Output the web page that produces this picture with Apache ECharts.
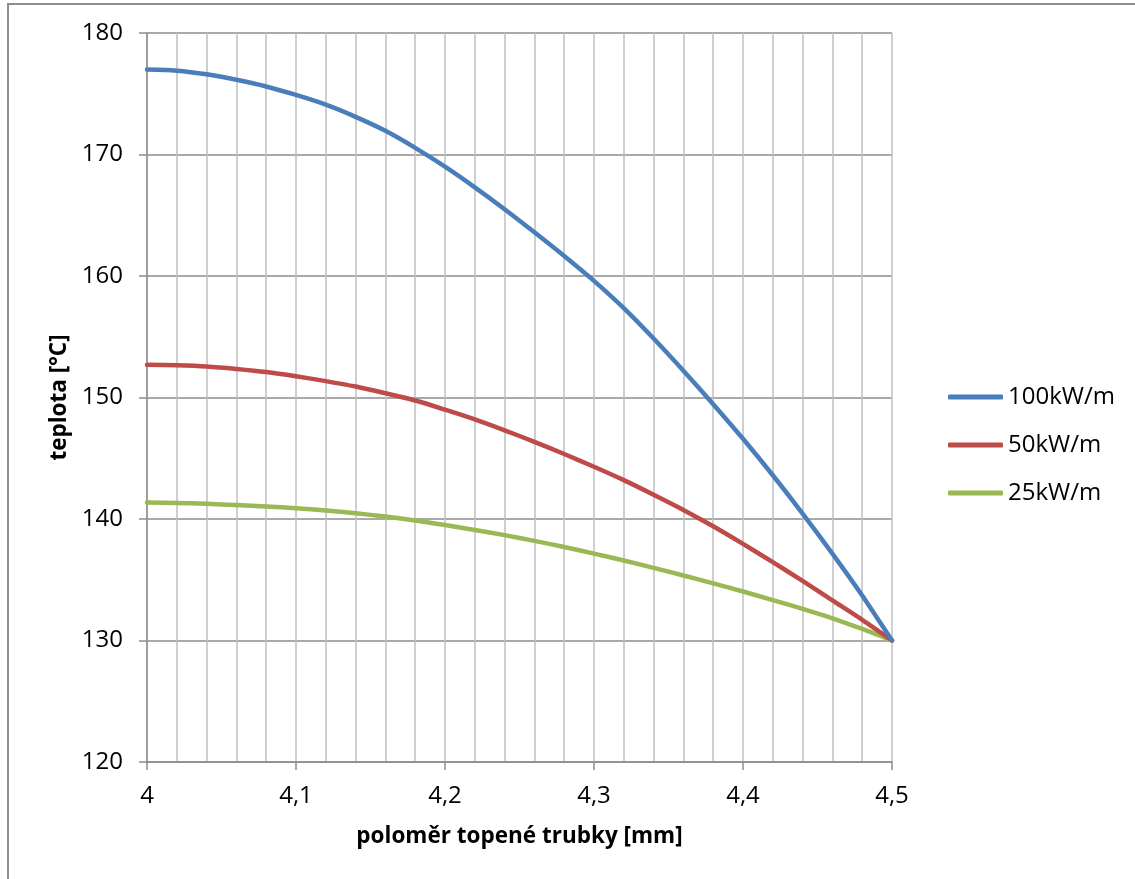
<!DOCTYPE html>
<html>
<head>
<meta charset="utf-8">
<title>teplota vs. poloměr</title>
<script src="https://cdn.jsdelivr.net/npm/echarts@6/dist/echarts.min.js"></script>
<style>
  html, body { margin: 0; padding: 0; background: #ffffff; }
  #chart { width: 1135px; height: 879px; }
</style>
</head>
<body>
<div id="chart"></div>
<script>
// poloměr topené trubky [mm]
const radius = [4.00, 4.02, 4.04, 4.06, 4.08, 4.10, 4.12, 4.14, 4.16, 4.18,
                4.20, 4.22, 4.24, 4.26, 4.28, 4.30, 4.32, 4.34, 4.36, 4.38,
                4.40, 4.42, 4.44, 4.46, 4.48, 4.50];

// teplota [°C] pro jednotlivé tepelné výkony
const t100 = [177.0, 176.9, 176.6, 176.15, 175.6, 174.9, 174.1, 173.1, 171.95, 170.55,
              169.0, 167.3, 165.5, 163.6, 161.65, 159.6, 157.35, 154.85, 152.2, 149.45,
              146.6, 143.6, 140.45, 137.15, 133.7, 130.0];
const t50  = [152.7, 152.65, 152.55, 152.35, 152.1, 151.75, 151.35, 150.9, 150.35, 149.75,
              149.0, 148.2, 147.3, 146.35, 145.35, 144.3, 143.2, 142.0, 140.75, 139.4,
              137.95, 136.45, 134.9, 133.3, 131.7, 130.0];
const t25  = [141.35, 141.32, 141.25, 141.15, 141.03, 140.88, 140.7, 140.47, 140.2, 139.88,
              139.5, 139.1, 138.67, 138.2, 137.7, 137.15, 136.58, 135.98, 135.35, 134.7,
              134.03, 133.33, 132.6, 131.83, 130.95, 130.0];

const seriesNames = ['100kW/m', '50kW/m', '25kW/m'];
const seriesColors = ['#4A7EBB', '#BE4B48', '#98B954'];
const seriesValues = [t100, t50, t25];

const FONT = '"Open Sans", "DejaVu Sans", sans-serif';
const DARK_GRID = '#8C8C8C';
const LIGHT_GRID = '#C0C0C0';

const chart = echarts.init(document.getElementById('chart'), null, { renderer: 'canvas' });

const fmtX = v => Number(v.toFixed(1)).toString().replace('.', ',');

chart.setOption({
  backgroundColor: '#ffffff',
  animation: false,
  graphic: [{
    type: 'rect',
    shape: { x: 8, y: 4, width: 1200, height: 1000 },
    style: { fill: 'none', stroke: '#8E8E8E', lineWidth: 2 },
    silent: true,
    z: -1
  }],
  grid: { left: 147, right: 243, top: 33, bottom: 117, containLabel: false },
  legend: {
    orient: 'vertical',
    left: 948,
    top: 383,
    padding: 0,
    itemWidth: 55,
    itemHeight: 5,
    itemGap: 20,
    icon: 'roundRect',
    textStyle: { fontFamily: FONT, fontSize: 24, color: '#000', lineHeight: 28 },
    data: seriesNames
  },
  xAxis: {
    type: 'value',
    min: 4,
    max: 4.5,
    interval: 0.1,
    name: 'poloměr topené trubky [mm]',
    nameLocation: 'middle',
    nameGap: 63,
    nameTextStyle: { fontFamily: FONT, fontSize: 22.5, fontWeight: 'bold', color: '#000' },
    axisLine: { show: true, onZero: false, lineStyle: { color: DARK_GRID, width: 1.5 } },
    axisTick: { show: true, length: 8, lineStyle: { color: DARK_GRID, width: 1.5 } },
    axisLabel: { fontFamily: FONT, fontSize: 24, color: '#000', margin: 22, formatter: fmtX },
    splitLine: { show: true, lineStyle: { color: LIGHT_GRID, width: 1.5 } },
    minorTick: { show: false, splitNumber: 5 },
    minorSplitLine: { show: true, lineStyle: { color: LIGHT_GRID, width: 1.5 } }
  },
  yAxis: {
    type: 'value',
    min: 120,
    max: 180,
    interval: 10,
    name: 'teplota [°C]',
    nameLocation: 'middle',
    nameGap: 74,
    nameTextStyle: { fontFamily: FONT, fontSize: 22.5, fontWeight: 'bold', color: '#000' },
    axisLine: { show: true, lineStyle: { color: DARK_GRID, width: 1.5 } },
    axisTick: { show: true, length: 8, lineStyle: { color: DARK_GRID, width: 1.5 } },
    axisLabel: { fontFamily: FONT, fontSize: 24, color: '#000', margin: 24 },
    splitLine: { show: true, lineStyle: { color: DARK_GRID, width: 1.5 } }
  },
  series: seriesNames.map((name, i) => ({
    name: name,
    type: 'line',
    data: radius.map((r, j) => [r, seriesValues[i][j]]),
    smooth: 0.3,
    symbol: 'none',
    color: seriesColors[i],
    lineStyle: { color: seriesColors[i], width: 4.5, cap: 'round' },
    itemStyle: { color: seriesColors[i] },
    z: 10 - i
  }))
});
</script>
</body>
</html>
